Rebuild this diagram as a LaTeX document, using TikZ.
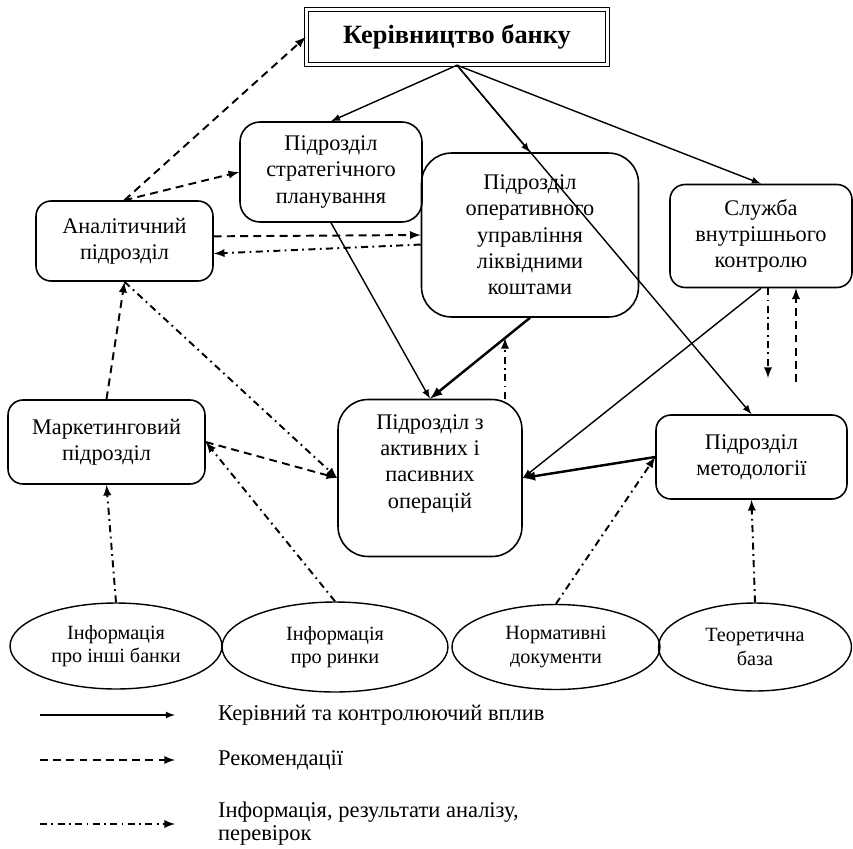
\documentclass[tikz,border=0pt]{standalone}
\usepackage{fontspec}
\setmainfont{Liberation Serif}
\usetikzlibrary{shapes.geometric,calc}

\begin{document}
\begin{tikzpicture}[x=0.02cm,y=-0.02cm,
    unit/.style={draw,line width=0.9pt,rounded corners=0.3cm,align=center,
      font=\fontsize{12.7}{15}\selectfont,inner sep=2pt},
    src/.style={draw,ellipse,line width=0.8pt,align=center,inner sep=0pt,
      font=\fontsize{11.5}{13.5}\selectfont},
    ctrl/.style={-latex,line width=0.8pt},
    rec/.style={-latex,line width=1.1pt,dash pattern=on 4.5pt off 3pt},
    info/.style={-latex,line width=1.1pt,dash pattern=on 4pt off 2.5pt on 1pt off 2.5pt},
    legtext/.style={anchor=west,align=left,inner sep=1pt,font=\fontsize{12.8}{13}\selectfont}]

    \useasboundingbox (0,0) rectangle (853,849);

    % management and units
    \node[draw,double,line width=0.8pt,double distance=1.3pt,minimum width=6.02cm,
      minimum height=1.1cm,font=\fontsize{15}{16}\selectfont\bfseries] (boss) at (457,37) {Керівництво банку};
    \node[unit,rounded corners=0.4cm,minimum width=3.64cm,minimum height=2cm] (strat) at (331,172) {Підрозділ\\стратегічного\\планування};
    \node[unit,rounded corners=0.6cm,minimum width=4.34cm,minimum height=3.28cm] (oper) at (530,235) {Підрозділ\\оперативного\\управління\\ліквідними\\коштами};
    \node[unit,minimum width=3.64cm,minimum height=2.06cm] (control) at (761,236) {Служба\\внутрішнього\\контролю};
    \node[unit,minimum width=3.54cm,minimum height=1.6cm] (anal) at (124.5,241) {Аналітичний\\підрозділ};
    \node[unit,minimum width=3.94cm,minimum height=1.68cm] (market) at (106.5,442) {Маркетинговий\\підрозділ};
    \node[unit,rounded corners=0.6cm,minimum width=3.68cm,minimum height=3.14cm] (activ) at (430,478) {Підрозділ з\\активних і\\пасивних\\операцій\\[4pt]};
    \node[unit,minimum width=3.82cm,minimum height=1.68cm] (method) at (751.5,457) {Підрозділ\\методології};

    % sources of information
    \node[src,minimum width=4.24cm,minimum height=1.72cm] (infoA) at (116,646) {Інформація\\про інші банки};
    \node[src,minimum width=4.52cm,minimum height=1.8cm] (infoB) at (335,647) {Інформація\\про ринки};
    \node[src,minimum width=4.16cm,minimum height=1.7cm] (norm) at (556,647) {Нормативні\\документи};
    \node[src,minimum width=3.86cm,minimum height=1.76cm] (theory) at (755,647) {Теоретична\\база};

    \coordinate (ctrlOut) at (768,378);
    \coordinate (ctrlIn)  at (796,382);
    \coordinate (operIn)  at (505,338);

    % control influence
    \draw[ctrl] (boss.south) -- (strat.north);
    \draw[ctrl] (boss.south) -- (oper.north);
    \draw[ctrl] (boss.south) -- (control.north);
    \draw[ctrl] (boss.south) -- (method.north);
    \draw[ctrl] (strat.south) -- (activ.north);
    \draw[ctrl,line width=1.4pt] (oper.south) -- (activ.north);
    \draw[ctrl] (control.south) -- (activ.east);
    \draw[ctrl,line width=1.4pt] (method.west) -- (activ.east);

    % recommendations
    \draw[rec] (anal.north) -- (boss.west);
    \draw[rec] (anal.north) -- (strat.west);
    \draw[rec] (anal.3) -- (oper.west);
    \draw[rec] (market.north) -- (anal.south);
    \draw[rec] (market.east) -- (activ.west);
    \draw[rec] (ctrlIn) -- (ctrlIn |- control.south);

    % information, results of analysis
    \draw[info] (oper.185) -- (anal.-8);
    \draw[info] (activ.north -| operIn) -- (operIn);
    \draw[info] (ctrlOut |- control.south) -- (ctrlOut);
    \draw[info] (anal.south) -- (activ.west);
    \draw[info] (infoA.north) -- (market.south);
    \draw[info] (infoB.north) -- (market.east);
    \draw[info] (norm.north) -- (method.west);
    \draw[info] (theory.north) -- (method.south);

    % legend
    \foreach \y/\sty/\txt in {715/ctrl/{Керівний та контролюючий вплив},
        760/rec/{Рекомендації},
        824/info/{Інформація, результати аналізу,\\перевірок}}{
      \coordinate (legS\y) at (40,\y);
      \coordinate (legE\y) at (175,\y);
      \draw[\sty] (legS\y) -- (legE\y);
      \node[legtext] (leg\y) at (216,\y) {\txt};
    }
\end{tikzpicture}
\end{document}
